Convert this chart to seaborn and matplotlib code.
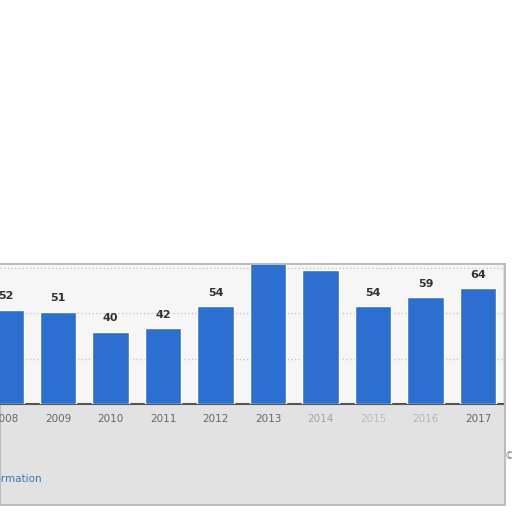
import matplotlib
matplotlib.use("Agg")
import matplotlib.pyplot as plt
from matplotlib.patches import Rectangle
import seaborn as sns
import pandas as pd

# values (2013/2014 labels are cut off above the panel)
years = ["2008", "2009", "2010", "2011", "2012", "2013", "2014", "2015", "2016", "2017"]
values = [52, 51, 40, 42, 54, 80, 74, 54, 59, 64]
tick_alpha = [1, 1, 1, 1, 1, 1, 0.5, 0.3, 0.35, 1]

df = pd.DataFrame({"year": years, "value": values})

sns.set_style("white")
plt.rcParams["font.family"] = ["DejaVu Sans"]

fig = plt.figure(figsize=(5.12, 5.12), dpi=100)
fig.patch.set_facecolor("white")

# grey blurred panel behind the chart
fig.add_artist(Rectangle((0, 7 / 512), 505 / 512, 241 / 512, transform=fig.transFigure,
                         facecolor="#e2e2e2", edgecolor="#bdbdbd", lw=1.5, zorder=0))

ax = fig.add_axes([0, 108 / 512, 503 / 512, 139 / 512])
ax.set_facecolor("#f6f6f6")

sns.barplot(data=df, x="year", y="value", color="#2c6fd0", width=0.7,
            saturation=1, ax=ax, zorder=3)

ymax = 76.7
ax.set_xlim(-0.105, 9.476)
ax.set_ylim(0, ymax)
ax.set_yticks([25, 50, 75])
ax.yaxis.grid(True, linestyle=":", color="#c8c8c8", lw=1, zorder=0)
ax.set_yticklabels([])
ax.tick_params(axis="both", length=0)
ax.tick_params(axis="x", pad=7, labelsize=7.5, labelcolor="#666666")
for lbl, a in zip(ax.get_xticklabels(), tick_alpha):
    lbl.set_alpha(a)
ax.set_xlabel("")
ax.set_ylabel("")
for s in ["top", "left", "right"]:
    ax.spines[s].set_visible(False)
ax.spines["bottom"].set_color("#555555")
ax.spines["bottom"].set_linewidth(1.5)

# labels that would sit above the panel are cut off in the screenshot
for i, v in enumerate(values):
    if v + 9 > ymax:
        continue
    ax.annotate(str(v), (i, v), xytext=(0, 6), textcoords="offset points",
                ha="center", va="bottom", fontsize=8, fontweight="bold",
                color="#333333")

fig.text(42 / 512, 1 - 479 / 512, "Additional Information", ha="right", va="center",
         fontsize=7.5, color="#3a78b5")
fig.text(505 / 512, 1 - 456 / 512, "©", ha="left", va="center",
         fontsize=7, color="#888888")

fig.savefig("out.png", dpi=100)
